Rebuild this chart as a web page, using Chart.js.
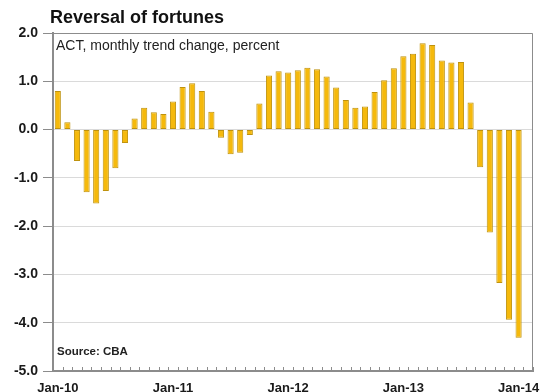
<!DOCTYPE html>
<html lang="en">
<head>
    <meta charset="UTF-8">
    <title>Reversal of fortunes</title>
    <style>
        body {
            margin: 0;
            background-color: #fff;
        }
        #chart {
            display: block;
        }
    </style>
    <script src="https://cdn.jsdelivr.net/npm/chart.js"></script>
</head>
<body>
    <canvas id="chart" width="544" height="392"></canvas>

    <script>
        // Months Jan-10 .. Feb-14 (last slot left empty)
        const categories = [
            'Jan-10', 'Feb-10', 'Mar-10', 'Apr-10', 'May-10', 'Jun-10', 'Jul-10', 'Aug-10', 'Sep-10', 'Oct-10', 'Nov-10', 'Dec-10',
            'Jan-11', 'Feb-11', 'Mar-11', 'Apr-11', 'May-11', 'Jun-11', 'Jul-11', 'Aug-11', 'Sep-11', 'Oct-11', 'Nov-11', 'Dec-11',
            'Jan-12', 'Feb-12', 'Mar-12', 'Apr-12', 'May-12', 'Jun-12', 'Jul-12', 'Aug-12', 'Sep-12', 'Oct-12', 'Nov-12', 'Dec-12',
            'Jan-13', 'Feb-13', 'Mar-13', 'Apr-13', 'May-13', 'Jun-13', 'Jul-13', 'Aug-13', 'Sep-13', 'Oct-13', 'Nov-13', 'Dec-13',
            'Jan-14', 'Feb-14'
        ];

        // ACT monthly trend change, percent
        const trendChange = [
            0.80, 0.15, -0.65, -1.30, -1.53, -1.27, -0.80, -0.28, 0.23, 0.45, 0.36, 0.32,
            0.58, 0.88, 0.96, 0.80, 0.37, -0.17, -0.51, -0.48, -0.11, 0.54, 1.12, 1.21,
            1.18, 1.23, 1.28, 1.25, 1.10, 0.87, 0.61, 0.45, 0.48, 0.78, 1.02, 1.27,
            1.52, 1.57, 1.79, 1.75, 1.43, 1.39, 1.40, 0.56, -0.78, -2.13, -3.18, -3.94,
            -4.31, null
        ];

        const yTicks = [2, 1, 0, -1, -2, -3, -4, -5];

        // title, subtitle, source note, plot box and the small month ticks
        const decorations = {
            id: 'decorations',
            afterDraw(chart) {
                const ctx = chart.ctx;
                const area = chart.chartArea;
                const x = chart.scales.x;
                ctx.save();

                ctx.strokeStyle = '#8c8c8c';
                ctx.lineWidth = 1;
                ctx.beginPath();
                ctx.moveTo(area.left, area.top + 0.5);
                ctx.lineTo(area.right - 0.5, area.top + 0.5);
                ctx.lineTo(area.right - 0.5, area.bottom);
                ctx.stroke();

                // month ticks on the category boundaries, pointing into the plot
                ctx.beginPath();
                const step = x.getPixelForTick(1) - x.getPixelForTick(0);
                for (let i = 0; i <= categories.length; i++) {
                    const px = Math.round(x.getPixelForTick(0) - step / 2 + i * step) + 0.5;
                    ctx.moveTo(px, area.bottom);
                    ctx.lineTo(px, area.bottom - 4);
                }
                ctx.stroke();

                ctx.fillStyle = '#111';
                ctx.textBaseline = 'alphabetic';
                ctx.font = 'bold 18px "Liberation Sans", Arial, sans-serif';
                ctx.fillText('Reversal of fortunes', 50, 23);

                ctx.fillStyle = '#222';
                ctx.font = '14px "Liberation Sans", Arial, sans-serif';
                ctx.fillText('ACT, monthly trend change, percent', 56, 50);

                ctx.font = 'bold 11.5px "Liberation Sans", Arial, sans-serif';
                ctx.fillText('Source: CBA', 57, 355);

                ctx.restore();
            }
        };

        new Chart(document.getElementById('chart'), {
            type: 'bar',
            data: {
                labels: categories,
                datasets: [{
                    data: trendChange,
                    backgroundColor: '#F5B90C',
                    borderColor: '#BE920E',
                    borderWidth: 1,
                    borderSkipped: false,
                    barPercentage: 0.64,
                    categoryPercentage: 1.0
                }]
            },
            options: {
                responsive: false,
                animation: false,
                layout: {
                    padding: { top: 33, right: 11, left: 0, bottom: 0 }
                },
                plugins: {
                    legend: { display: false },
                    tooltip: { enabled: false }
                },
                scales: {
                    x: {
                        offset: true,
                        grid: { display: false },
                        border: { color: '#8c8c8c', width: 2 },
                        ticks: {
                            autoSkip: false,
                            maxRotation: 0,
                            padding: 2,
                            color: '#1a1a1a',
                            font: { family: '"Liberation Sans", Arial, sans-serif', size: 13, weight: 'bold' },
                            callback: (v, i) => categories[i].startsWith('Jan') ? categories[i] : ''
                        },
                        afterFit: s => { s.height = 21; }
                    },
                    y: {
                        min: -5,
                        max: 2,
                        afterBuildTicks: s => { s.ticks = yTicks.map(v => ({ value: v })); },
                        grid: {
                            color: '#dadada',
                            tickColor: '#8c8c8c',
                            tickLength: 10
                        },
                        border: { color: '#8c8c8c', width: 2 },
                        ticks: {
                            padding: 5,
                            color: '#1a1a1a',
                            font: { family: '"Liberation Sans", Arial, sans-serif', size: 14, weight: 'bold' },
                            callback: v => v.toFixed(1)
                        },
                        afterFit: s => { s.width = 53; }
                    }
                }
            },
            plugins: [decorations]
        });
    </script>
</body>
</html>
